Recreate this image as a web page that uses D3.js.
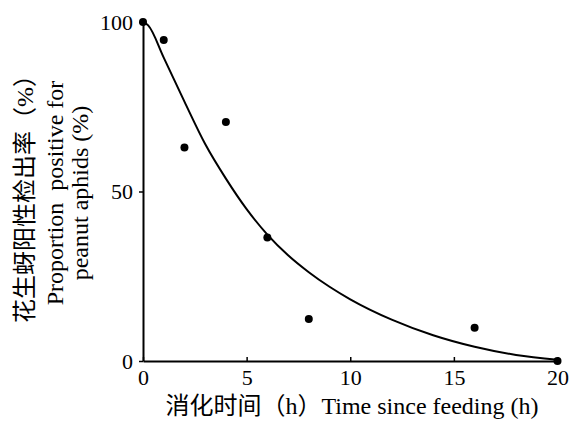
<!DOCTYPE html>
<html><head><meta charset="utf-8">
<script src="https://cdn.jsdelivr.net/npm/d3@7"></script>
<style>
html,body{margin:0;padding:0;background:#fff;}
text{font-family:"Liberation Serif","Times New Roman","Noto Sans CJK SC",serif;fill:#000;}
</style></head>
<body><svg id="c" width="576" height="423"></svg>
<script>
// Observed data points (time in h, proportion positive %)
const timeH = [0, 1, 2, 4, 6, 8, 16, 20];
const proportion = [100, 94.7, 63, 70.5, 36.4, 12.4, 9.8, 0];
// Fitted curve
const curveX = [0, 0.25, 1, 2, 3, 4, 5, 6, 7, 8, 9, 10, 12, 14, 16, 18, 20];
const curveY = [100, 99, 89.5, 76.5, 64, 53.8, 44.8, 37.3, 31.2, 26.2, 21.9, 18.2, 12.2, 7.6, 4.2, 1.8, 0.4];
const xTicks = [0, 5, 10, 15, 20];
const yTicks = [0, 50, 100];
const xTitle = "消化时间（h）Time since feeding (h)";
const yTitleLines = ["花生蚜阳性检出率（%）", "Proportion\u00a0 positive for", "peanut aphids (%)"];

const svg = d3.select("#c");
const m = {left: 143, right: 18.5, top: 22, bottom: 62};
const W = 576, H = 423;
const x = d3.scaleLinear().domain([0, 20]).range([m.left, W - m.right]);
const y = d3.scaleLinear().domain([0, 100]).range([H - m.bottom, m.top]);

// X axis (ticks pointing inward)
const gx = svg.append("g").attr("transform", `translate(0,${y(0)})`)
  .call(d3.axisBottom(x).tickValues(xTicks).tickSizeInner(-4).tickSizeOuter(0).tickPadding(8));
gx.select(".domain").attr("stroke", "#000").attr("stroke-width", 2);
gx.selectAll(".tick line").attr("stroke", "#000").attr("stroke-width", 1.5);
gx.selectAll(".tick text").attr("font-size", 22).attr("dy", "0.72em")
  .style("font-family", '"Liberation Serif",serif');

// Y axis
const gy = svg.append("g").attr("transform", `translate(${x(0)},0)`)
  .call(d3.axisLeft(y).tickValues(yTicks).tickSizeInner(4).tickSizeOuter(0).tickPadding(6));
gy.select(".domain").attr("stroke", "#000").attr("stroke-width", 2);
gy.selectAll(".tick line").attr("stroke", "#000").attr("stroke-width", 1.5);
gy.selectAll(".tick text").attr("font-size", 22).attr("dy", "0.34em")
  .style("font-family", '"Liberation Serif",serif');

// Fitted curve
const line = d3.line().x(d => x(d[0])).y(d => y(d[1])).curve(d3.curveMonotoneX);
svg.append("path").datum(curveX.map((v, i) => [v, curveY[i]]))
  .attr("d", line).attr("fill", "none").attr("stroke", "#000").attr("stroke-width", 2);

// Points
svg.append("g").selectAll("circle").data(timeH.map((v, i) => [v, proportion[i]]))
  .join("circle").attr("cx", d => x(d[0])).attr("cy", d => y(d[1])).attr("r", 4).attr("fill", "#000");

// X title
svg.append("text").attr("x", 352).attr("y", 414).attr("text-anchor", "middle")
  .attr("font-size", 24).text(xTitle);

// Y title (rotated, three lines; x = baseline position)
const yBaselines = [33, 63, 88];
yTitleLines.forEach((t, i) => {
  svg.append("text").attr("transform", `translate(${yBaselines[i]},193) rotate(-90)`)
    .attr("text-anchor", "middle")
    .attr("font-size", 24).text(t);
});
</script></body></html>
